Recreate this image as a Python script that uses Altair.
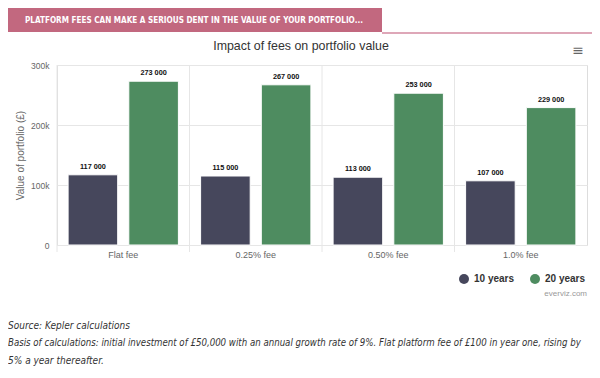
import altair as alt
import pandas as pd

categories = ["Flat fee", "0.25% fee", "0.50% fee", "1.0% fee"]
series_names = ["10 years", "20 years"]
values_10 = [117000, 115000, 113000, 107000]
values_20 = [273000, 267000, 253000, 229000]
colors = ["#46475c", "#4e8c60"]
y_ticks = [0, 100000, 200000, 300000]

banner_text = "PLATFORM FEES CAN MAKE A SERIOUS DENT IN THE VALUE OF YOUR PORTFOLIO..."
chart_title = "Impact of fees on portfolio value"
y_title = "Value of portfolio (£)"
credit = "everviz.com"
footer_lines = [
    "Source: Kepler calculations",
    "Basis of calculations: initial investment of £50,000 with an annual growth rate of 9%. Flat platform fee of £100 in year one, rising by",
    "5% a year thereafter.",
]
footer_sizes = [10, 9.6, 10]

rows = []
for i, c in enumerate(categories):
    rows.append({"fee": c, "period": series_names[0], "value": values_10[i]})
    rows.append({"fee": c, "period": series_names[1], "value": values_20[i]})
df = pd.DataFrame(rows)
grid_df = pd.DataFrame({"fee": categories})
one = pd.DataFrame({"a": [0]})

W, H = 530, 180
FONT = "Liberation Sans"
NARROW = "DejaVu Sans Condensed, sans-serif"

x_scale = alt.Scale(domain=categories, paddingInner=0, paddingOuter=0)
x_axis = alt.Axis(title=None, labelFontSize=9, labelColor="#666", labelFont=FONT,
                  labelAngle=0, labelAlign="center", labelBaseline="top",
                  ticks=False, domain=False, grid=False, labelPadding=5)

xoff = alt.XOffset("period:N", sort=series_names,
                   scale=alt.Scale(domain=series_names, paddingInner=0.183, paddingOuter=0.183))
y_enc = alt.Y(
    "value:Q", scale=alt.Scale(domain=[0, 300000], nice=False),
    axis=alt.Axis(title=y_title, values=y_ticks,
                  labelExpr="datum.value == 0 ? '0' : (datum.value/1000) + 'k'",
                  labelFontSize=8.5, labelColor="#666", labelFont=FONT, labelPadding=8,
                  ticks=False, domain=False, grid=True, gridColor="#e6e6e6",
                  titleFontSize=10, titleFontWeight="normal", titleColor="#666", titleFont=FONT,
                  titleX=-37, titleY=H / 2, titleAngle=270, titleAlign="center",
                  titleBaseline="middle"),
)

vgrid = alt.Chart(grid_df).mark_rule(color="#e6e6e6", strokeWidth=1).encode(
    x=alt.X("fee:N", sort=categories, scale=x_scale, bandPosition=0, axis=x_axis),
    y=alt.value(0), y2=alt.value(H + 7),
)

bars = alt.Chart(df).mark_bar(stroke="white", strokeWidth=1).encode(
    x=alt.X("fee:N", sort=categories, scale=x_scale, axis=x_axis),
    xOffset=xoff, y=y_enc,
    color=alt.Color("period:N", sort=series_names,
                    scale=alt.Scale(domain=series_names, range=colors),
                    legend=alt.Legend(title=None, orient="none", legendX=402, legendY=209,
                                      direction="horizontal", symbolType="circle",
                                      symbolSize=100, labelFontSize=10, labelFontWeight="bold",
                                      labelColor="#333", labelFont=FONT, columnPadding=15,
                                      labelOffset=5, symbolStrokeWidth=0, padding=0)),
)

labels = alt.Chart(df).transform_calculate(
    lbl="replace(format(datum.value, ','), ',', ' ')"
).mark_text(fontWeight="bold", fontSize=7.3, baseline="bottom", dy=-4, color="#111", font=FONT).encode(
    x=alt.X("fee:N", sort=categories, scale=x_scale, axis=x_axis), xOffset=xoff,
    y=alt.Y("value:Q"), text="lbl:N",
)

banner = alt.Chart(one).mark_rect(color="#c2687f").encode(
    x=alt.value(-49), x2=alt.value(325), y=alt.value(-57), y2=alt.value(-33))
banner_line = alt.Chart(one).mark_rule(color="#d38aa0", strokeWidth=1.5).encode(
    x=alt.value(325), x2=alt.value(540), y=alt.value(-32))
banner_lbl = alt.Chart(one).mark_text(text=banner_text, align="left", baseline="middle",
                                      font=NARROW, fontWeight="bold", fontSize=8.1,
                                      color="white").encode(x=alt.value(-32), y=alt.value(-44.5))
title = alt.Chart(one).mark_text(text=chart_title, align="center", baseline="middle",
                                 font=FONT, fontSize=12.4, color="#333").encode(
    x=alt.value(244), y=alt.value(-19))
burger = alt.Chart(one).mark_text(text="≡", align="center", baseline="middle",
                                  font="DejaVu Sans", fontSize=14, color="#666").encode(
    x=alt.value(521), y=alt.value(-14))
credit_lbl = alt.Chart(one).mark_text(text=credit, align="right", baseline="middle",
                                      font=FONT, fontSize=8, color="#999").encode(
    x=alt.value(530), y=alt.value(229))

footer_layers = []
for line, size, yy in zip(footer_lines, footer_sizes, [261, 278, 296]):
    footer_layers.append(alt.Chart(one).mark_text(
        text=line, align="left", baseline="middle", font=NARROW, fontStyle="italic",
        fontSize=size, color="#333").encode(x=alt.value(-49), y=alt.value(yy)))

chart = alt.layer(vgrid, bars, labels, banner, banner_line, banner_lbl, title, burger,
                  credit_lbl, *footer_layers).properties(
    width=W, height=H, autosize="none",
    padding={"left": 49, "top": 57, "right": 5, "bottom": 121},
).configure_view(stroke="#e6e6e6").configure(font=FONT)

chart.save("out.html", embed_options={"renderer": "svg", "actions": False})
